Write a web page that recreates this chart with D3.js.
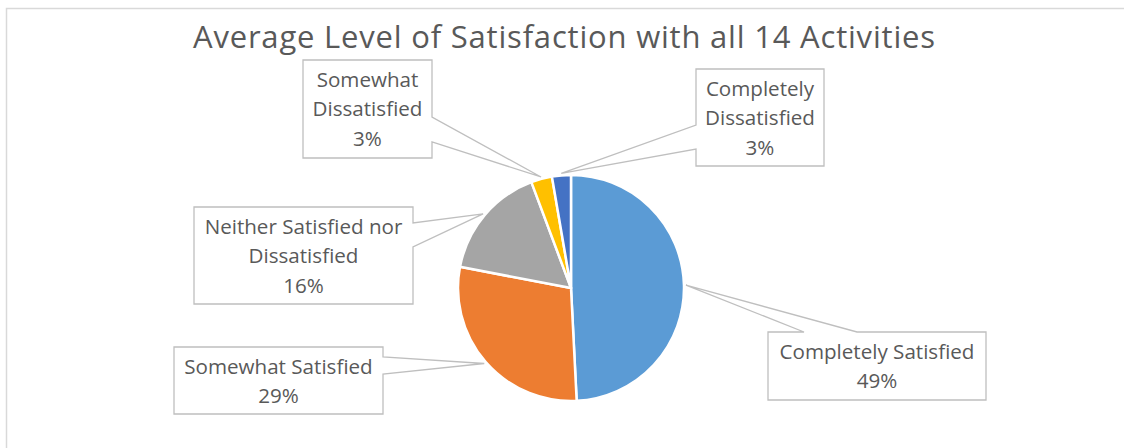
<!DOCTYPE html>
<html>
<head>
<meta charset="utf-8">
<script src="https://cdn.jsdelivr.net/npm/d3@7"></script>
<style>
  body { margin: 0; background: #fff; }
  text { font-family: "Open Sans", "Noto Sans", sans-serif; fill: #595959; }
</style>
</head>
<body>
<div class="chart"></div>
<script>
// data
const categories = ["Completely Satisfied", "Somewhat Satisfied", "Neither Satisfied nor Dissatisfied",
                    "Somewhat Dissatisfied", "Completely Dissatisfied"];
const values = [49.2, 28.8, 16.3, 3.0, 2.7];
const labelLines = [["Completely Satisfied"], ["Somewhat Satisfied"], ["Neither Satisfied nor", "Dissatisfied"],
                    ["Somewhat", "Dissatisfied"], ["Completely", "Dissatisfied"]];
const colors = ["#5B9BD5", "#ED7D31", "#A5A5A5", "#FFC000", "#4472C4"];
const title = "Average Level of Satisfaction with all 14 Activities";

// callout boxes: x, y, w, h, side the wedge leaves from, wedge base start/end along that side
const boxes = [
    {x: 768, y: 332, w: 218, h: 68, side: "top",   a: 36, b: 89},
    {x: 174, y: 347, w: 209, h: 67, side: "right", a: 10, b: 27},
    {x: 194, y: 207, w: 219, h: 97, side: "right", a: 16, b: 40},
    {x: 303, y: 60,  w: 129, h: 98, side: "right", a: 57, b: 82},
    {x: 696, y: 69,  w: 128, h: 97, side: "left",  a: 56, b: 80}
];

const width = 1124, height = 448;
const cx = 571, cy = 288, radius = 113;

const svg = d3.select('.chart').append('svg')
    .attr('width', width)
    .attr('height', height);

// chart area border (only top and left edges are visible)
svg.append('path')
    .attr('d', `M6.5,${height} V8.5 H${width}`)
    .attr('fill', 'none')
    .attr('stroke', '#D9D9D9')
    .attr('stroke-width', 1.5);

svg.append('text')
    .attr('x', 564)
    .attr('y', 48)
    .attr('text-anchor', 'middle')
    .attr('font-size', 31)
    .attr('textLength', 742)
    .attr('lengthAdjust', 'spacing')
    .text(title);

const total = d3.sum(values);
const pct = d3.format(".0%");

const pie = d3.pie().sort(null).value(d => d)(values);
const arc = d3.arc().innerRadius(0).outerRadius(radius);
const tipArc = d3.arc().innerRadius(radius + 2).outerRadius(radius + 2);

const g = svg.append('g').attr('transform', `translate(${cx},${cy})`);

g.selectAll('path.slice')
    .data(pie)
    .enter()
    .append('path')
    .attr('class', 'slice')
    .attr('d', arc)
    .attr('fill', (d, i) => colors[i])
    .attr('stroke', '#fff')
    .attr('stroke-width', 2.5)
    .attr('stroke-linejoin', 'round');

function calloutPath(b, tip) {
    const x0 = b.x, y0 = b.y, x1 = b.x + b.w, y1 = b.y + b.h;
    const t = `L${tip[0]},${tip[1]}`;
    if (b.side === "top")
        return `M${x0},${y0} H${x0 + b.a} ${t} L${x0 + b.b},${y0} H${x1} V${y1} H${x0} Z`;
    if (b.side === "right")
        return `M${x0},${y0} H${x1} V${y0 + b.a} ${t} L${x1},${y0 + b.b} V${y1} H${x0} Z`;
    // left
    return `M${x0},${y0} H${x1} V${y1} H${x0} V${y0 + b.b} ${t} L${x0},${y0 + b.a} Z`;
}

const labels = svg.selectAll('g.callout')
    .data(pie)
    .enter()
    .append('g')
    .attr('class', 'callout');

labels.append('path')
    .attr('d', (d, i) => {
        const c = tipArc.centroid(d);
        return calloutPath(boxes[i], [cx + c[0], cy + c[1]]);
    })
    .attr('fill', '#fff')
    .attr('stroke', '#BFBFBF')
    .attr('stroke-width', 1.3)
    .attr('stroke-linejoin', 'miter');

labels.each(function(d, i) {
    const b = boxes[i];
    const lines = labelLines[i].concat([pct(values[i] / total)]);
    const t = d3.select(this).append('text')
        .attr('text-anchor', 'middle')
        .attr('font-size', 20.6);
    lines.forEach((ln, j) => {
        t.append('tspan')
            .attr('x', b.x + b.w / 2)
            .attr('y', b.y + 27 + j * 29.3)
            .text(ln);
    });
});
</script>
</body>
</html>
